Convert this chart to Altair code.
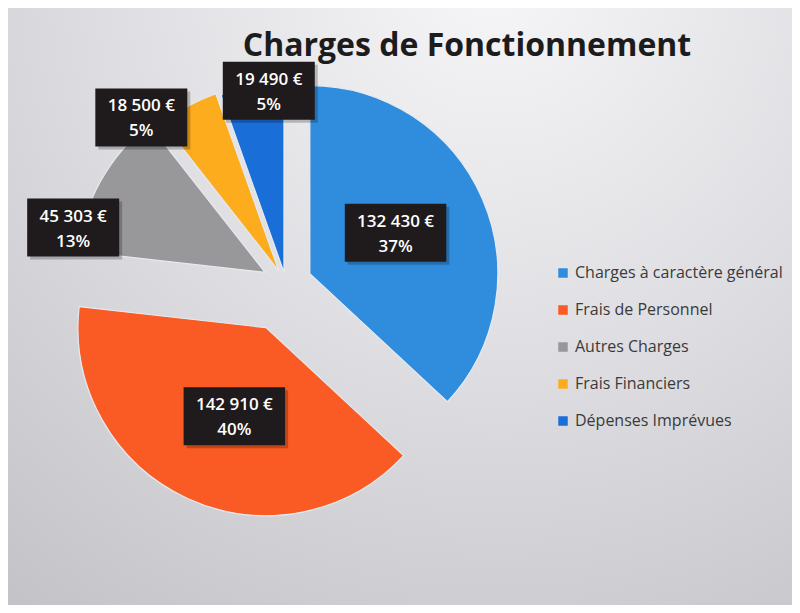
import altair as alt
import pandas as pd

# ---- data ----
CATEGORIES = ["Charges à caractère général", "Frais de Personnel", "Autres Charges",
              "Frais Financiers", "Dépenses Imprévues"]
VALUES = [132430, 142910, 45303, 18500, 19490]
COLORS = ["#308cdc", "#fa5a23", "#98989b", "#fdac1e", "#1a6ed7"]

# ---- style (explode distance and label placement per slice) ----
EXPLODE = [26, 48, 24, 15, 12]
LABEL_R = [95, 94, 197, 206, 182]
LABEL_SHIFT = [-2, -5, -16, -13, 5]   # degrees
CX, CY, R = 278, 276, 188
W, H = 784, 597

total = sum(VALUES)
df = pd.DataFrame({
    "cat": CATEGORIES,
    "value": VALUES,
    "idx": list(range(len(VALUES))),
    "explode": EXPLODE,
    "lr": LABEL_R,
    "ls": LABEL_SHIFT,
})
df["line1"] = [f"{v:,}".replace(",", " ") + " €" for v in VALUES]
df["line2"] = [f"{round(v / total * 100)}%" for v in VALUES]
df["label"] = df["line1"] + "\n" + df["line2"]

base = alt.Chart(df).transform_joinaggregate(
    total="sum(value)"
).transform_window(
    cum="sum(value)", sort=[alt.SortField("idx")], frame=[None, 0]
).transform_calculate(
    a0="2*PI*(datum.cum - datum.value)/datum.total",
    a1="2*PI*datum.cum/datum.total",
).transform_calculate(
    mid="(datum.a0 + datum.a1)/2",
).transform_calculate(
    cx=f"{CX} + datum.explode*sin(datum.mid)",
    cy=f"{CY} - datum.explode*cos(datum.mid)",
).transform_calculate(
    lx="datum.cx + datum.lr*sin(datum.mid + datum.ls*PI/180)",
    ly="datum.cy - datum.lr*cos(datum.mid + datum.ls*PI/180)",
    bw="9.5*length(datum.line1) + 16",
).transform_calculate(
    bx1="datum.lx - datum.bw/2",
    bx2="datum.lx + datum.bw/2",
    by1="datum.ly - 29",
    by2="datum.ly + 29",
)

bg = alt.Chart(alt.Data(values=[{"a": 1}])).mark_rect(
    color={"gradient": "radial", "x1": 0.62, "y1": 0.08, "x2": 0.62, "y2": 0.08,
           "r1": 0, "r2": 1.0,
           "stops": [{"offset": 0, "color": "#f6f6f8"},
                     {"offset": 0.5, "color": "#dedee2"},
                     {"offset": 1, "color": "#c4c4c8"}]}
).encode(x=alt.value(0), x2=alt.value(W), y=alt.value(0), y2=alt.value(H))

arcs = base.mark_arc(radius=R, stroke="#e4eaf0", strokeWidth=1.2).encode(
    x=alt.X("cx:Q", scale=None),
    y=alt.Y("cy:Q", scale=None),
    theta=alt.Theta("a0:Q", scale=None),
    theta2="a1:Q",
    color=alt.Color("cat:N", sort=CATEGORIES,
                    scale=alt.Scale(domain=CATEGORIES, range=COLORS),
                    legend=alt.Legend(title=None, orient="none", legendX=547, legendY=257,
                                      symbolType="square", symbolSize=90,
                                      symbolStrokeWidth=0,
                                      labelFont="Open Sans", labelFontSize=16,
                                      labelColor="#3a3a3a", rowPadding=21,
                                      labelOffset=4, labelLimit=400, padding=0)),
)

shadow = base.mark_rect(color="#000000", opacity=0.22).encode(
    x=alt.X("bx1:Q", scale=None), x2="bx2:Q",
    y=alt.Y("by1:Q", scale=None), y2="by2:Q",
).transform_calculate(
    bx1="datum.bx1 + 3", bx2="datum.bx2 + 3", by1="datum.by1 + 3", by2="datum.by2 + 3"
)

boxes = base.mark_rect(color="#1f1b1d").encode(
    x=alt.X("bx1:Q", scale=None), x2="bx2:Q",
    y=alt.Y("by1:Q", scale=None), y2="by2:Q",
)

texts = base.mark_text(font="Open Sans", fontSize=17, fontWeight=600, color="white",
                       lineBreak="\n", lineHeight=25, baseline="middle",
                       align="center", dy=-11).encode(
    x=alt.X("lx:Q", scale=None),
    y=alt.Y("ly:Q", scale=None),
    text="label:N",
)

chart = alt.layer(bg, arcs, shadow, boxes, texts).properties(
    width=W, height=H, padding=0, autosize="none",
    title=alt.TitleParams("Charges de Fonctionnement", font="Open Sans", fontSize=32,
                          fontWeight="bold", color="#1c1c1c", anchor="middle",
                          baseline="alphabetic", offset=0, dx=67, dy=80),
).configure_view(stroke=None)

chart.save("out.html", embed_options={"renderer": "svg", "actions": False})
